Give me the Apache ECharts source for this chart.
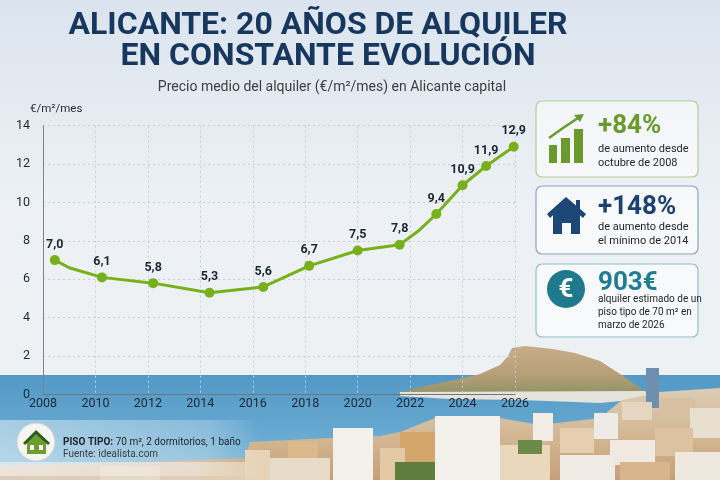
<!DOCTYPE html>
<html>
<head>
<meta charset="utf-8">
<script src="https://cdn.jsdelivr.net/npm/echarts@6/dist/echarts.min.js"></script>
<style>
html,body{margin:0;padding:0;background:#e8edf2;}
#c{width:720px;height:480px;}
</style>
</head>
<body>
<div id="c"></div>
<script>
// ---- data ----
const years  = [2008.45, 2009.0, 2010.25, 2012.2, 2014.35, 2016.4, 2018.15, 2020.0, 2021.6, 2022.3, 2023.0, 2024.0, 2024.9, 2025.95];
const prices = [7.0, 6.6, 6.1, 5.8, 5.3, 5.6, 6.7, 7.5, 7.8, 8.5, 9.4, 10.9, 11.9, 12.9];
const labelled = [true, false, true, true, true, true, true, true, true, false, true, true, true, true];
const xTicks = {min: 2008, max: 2026, interval: 2};
const yTicks = {min: 0, max: 14, interval: 2};
const titleLines = ['ALICANTE: 20 AÑOS DE ALQUILER', 'EN CONSTANTE EVOLUCIÓN'];
const subtitle = 'Precio medio del alquiler (€/m²/mes) en Alicante capital';
const yUnit = '€/m²/mes';
const kpiValues = ['+84%', '+148%', '903€'];
const kpiTexts = [
  ['de aumento desde', 'octubre de 2008'],
  ['de aumento desde', 'el mínimo de 2014'],
  ['alquiler estimado de un', 'piso tipo de 70 m² en', 'marzo de 2026']
];
const footLine1 = '{b|PISO TIPO:} 70 m², 2 dormitorios, 1 baño';
const footLine2 = 'Fuente: idealista.com';

const GREEN = '#78b01c';
const F = 'Roboto, "Noto Sans", sans-serif';

function vgrad(stops){return new echarts.graphic.LinearGradient(0,0,0,1,stops.map(c=>({offset:c[0],color:c[1]})));}
function box(x,y,w,h,c){return {type:'rect', z:-96, shape:{x:x,y:y,width:w,height:h}, style:{fill:c}};}

const bg = [
  {type:'rect', z:-100, shape:{x:0,y:0,width:720,height:376}, style:{fill:vgrad([[0,'#dbe4ee'],[0.55,'#edf1f5'],[1,'#eef1f3']])}},
  {type:'rect', z:-99, shape:{x:0,y:375,width:720,height:105}, style:{fill:vgrad([[0,'#5399c6'],[0.5,'#64a7d0'],[1,'#86bdd8']])}},
  {type:'polygon', z:-98, shape:{points:[[398,393],[420,387],[450,381],[480,374],[500,365],[508,356],[512,348],[525,346],[553,349],[575,353],[600,361],[620,374],[643,390],[648,394],[398,395]]}, style:{fill:vgrad([[0,'#c8ae88'],[0.6,'#b59f78'],[1,'#8f9165']])}},
  {type:'polygon', z:-97, shape:{points:[[400,392],[645,391],[652,398],[600,403],[520,400],[450,399],[400,396]]}, style:{fill:'#e6e3dc'}},
  {type:'polygon', z:-97, shape:{points:[[0,466],[150,462],[245,458],[250,442],[330,438],[380,436],[400,432],[435,418],[500,418],[540,425],[600,418],[622,400],[660,392],[720,388],[720,480],[0,480]]}, style:{fill:vgrad([[0,'#dccdb5'],[0.5,'#d3b894'],[1,'#c69f7a']])}},
  box(0,462,250,18,'rgba(240,240,238,0.55)'),
  box(646,368,13,40,'#6f8fae'),
  box(622,402,30,18,'#e4d6c2'),
  box(660,398,35,20,'#d8c0a2'),
  box(690,408,30,30,'#e9dfd0'),
  box(435,416,65,64,'#f3f1ec'),
  box(400,432,35,35,'#d5a66c'),
  box(380,448,25,32,'#e3c9a5'),
  box(533,413,20,28,'#f1ede6'),
  box(594,413,24,26,'#eeeae5'),
  box(560,428,34,25,'#e6cfae'),
  box(610,440,45,25,'#efe9e1'),
  box(655,428,38,28,'#dcc2a0'),
  box(500,445,50,35,'#ead8bd'),
  box(560,455,55,25,'#f0ebe4'),
  box(620,462,50,18,'#d9b58e'),
  box(675,452,45,28,'#efe8de'),
  box(395,462,40,18,'#5f7d3e'),
  box(518,440,24,14,'#6b8a48'),
  box(333,428,40,52,'#f3f1ec'),
  box(288,441,30,22,'#dcb88d'),
  box(270,458,60,22,'#e8dcc8'),
  box(245,450,25,30,'#e6d3b8'),
  box(200,462,45,18,'#e0cdb2'),
  box(100,466,60,14,'#e5d9c6'),
  {type:'rect', z:-95, shape:{x:0,y:420,width:260,height:56}, style:{fill:new echarts.graphic.LinearGradient(0,0,1,0,[{offset:0,color:'rgba(255,255,255,0.45)'},{offset:0.8,color:'rgba(255,255,255,0.25)'},{offset:1,color:'rgba(255,255,255,0)'}])}}
];

function txt(x,y,text,font,fill,align){
  return {type:'text', z:20, style:{x:x,y:y,text:text,font:font,fill:fill,textAlign:align||'left',textVerticalAlign:'middle'}};
}

const fg = [
  txt(318,26,titleLines[0],'bold 32px '+F,'#17375e','center'),
  txt(328,57,titleLines[1],'bold 32px '+F,'#17375e','center'),
  txt(332,87,subtitle,'14px '+F,'#3b3f45','center'),
  {type:'rect', z:10, shape:{x:536,y:101,width:162,height:76,r:6}, style:{fill:'rgba(255,255,255,0.55)',stroke:'#b8cc8e',lineWidth:1.2}},
  {type:'rect', z:10, shape:{x:536,y:186,width:162,height:68,r:6}, style:{fill:'rgba(255,255,255,0.55)',stroke:'#8ea2bd',lineWidth:1.2}},
  {type:'rect', z:10, shape:{x:536,y:264,width:162,height:73,r:6}, style:{fill:'rgba(255,255,255,0.55)',stroke:'#8fbfcd',lineWidth:1.2}},
  {type:'rect', z:15, shape:{x:549,y:145,width:8,height:18}, style:{fill:'#6a9a2b'}},
  {type:'rect', z:15, shape:{x:561,y:138,width:9,height:25}, style:{fill:'#6a9a2b'}},
  {type:'rect', z:15, shape:{x:574,y:129,width:9,height:34}, style:{fill:'#6a9a2b'}},
  {type:'polyline', z:15, shape:{points:[[549,138],[563,128],[578,118]]}, style:{stroke:'#6a9a2b',lineWidth:2.5,fill:null}},
  {type:'polygon', z:15, shape:{points:[[584,114],[574,115],[580,122]]}, style:{fill:'#6a9a2b'}},
  {type:'polygon', z:15, shape:{points:[[547,214],[566,197],[586,214],[583,218],[566,203],[550,218]]}, style:{fill:'#1d4776'}},
  {type:'polygon', z:15, shape:{points:[[553,212],[566,201],[580,212],[580,234],[571,234],[571,223],[562,223],[562,234],[553,234]]}, style:{fill:'#1d4776'}},
  {type:'rect', z:15, shape:{x:576,y:200,width:4,height:9}, style:{fill:'#1d4776'}},
  {type:'circle', z:15, shape:{cx:566,cy:289,r:19}, style:{fill:'#1f7a8d'}},
  txt(566,290,'€','bold 26px '+F,'#ffffff','center'),
  txt(598,126,kpiValues[0],'bold 26px '+F,'#6a9a2b'),
  txt(598,207,kpiValues[1],'bold 26px '+F,'#1b4273'),
  txt(598,283,kpiValues[2],'bold 26px '+F,'#1f7d92'),
  txt(598,149,kpiTexts[0][0],'11px '+F,'#23272c'),
  txt(598,163,kpiTexts[0][1],'11px '+F,'#23272c'),
  txt(598,227,kpiTexts[1][0],'11px '+F,'#23272c'),
  txt(598,241,kpiTexts[1][1],'11px '+F,'#23272c'),
  txt(598,299,kpiTexts[2][0],'10px '+F,'#23272c'),
  txt(598,312,kpiTexts[2][1],'10px '+F,'#23272c'),
  txt(598,325,kpiTexts[2][2],'10px '+F,'#23272c'),
  {type:'circle', z:15, shape:{cx:36,cy:442,r:19}, style:{fill:'#f5f5f2',stroke:'#cfd2d4',lineWidth:1}},
  {type:'polygon', z:16, shape:{points:[[27,441],[36,433],[46,441],[46,454],[27,454]]}, style:{fill:'#6b9e2c'}},
  {type:'polygon', z:17, shape:{points:[[23,443],[36,430],[50,443],[48,445],[36,434],[25,445]]}, style:{fill:'#2e5a1e'}},
  {type:'rect', z:17, shape:{x:30,y:445,width:4,height:5}, style:{fill:'#ffffff'}},
  {type:'rect', z:17, shape:{x:39,y:445,width:4,height:5}, style:{fill:'#ffffff'}},
  {type:'text', z:20, style:{x:63,y:442,text:footLine1,font:'10px '+F,fill:'#23272c',textVerticalAlign:'middle',rich:{b:{fontWeight:'bold',fontSize:10,fontFamily:'Roboto'}}}},
  txt(63,454,footLine2,'10px '+F,'#3a3f45')
];

const chart = echarts.init(document.getElementById('c'), null, {renderer:'canvas'});
chart.setOption({
  animation:false,
  backgroundColor:'transparent',
  textStyle:{fontFamily:F},
  grid:{left:43,right:205,top:125.7,bottom:85.5,containLabel:false},
  xAxis:{type:'value',min:xTicks.min,max:xTicks.max,interval:xTicks.interval,
    axisLine:{show:true,lineStyle:{color:'#6f767e',width:1}},
    axisTick:{show:false},
    splitLine:{show:true,lineStyle:{color:'#c9ced4',type:[2,3]}},
    axisLabel:{formatter:v=>String(v),color:'#1e2630',fontSize:12.5,margin:3}},
  yAxis:{type:'value',min:yTicks.min,max:yTicks.max,interval:yTicks.interval,
    name:yUnit,nameLocation:'end',nameGap:11,
    nameTextStyle:{color:'#2a2f35',fontSize:11.5,align:'left',padding:[0,0,0,-13]},
    axisLine:{show:true,lineStyle:{color:'#7d838a',width:1}},
    axisTick:{show:false},
    splitLine:{show:true,lineStyle:{color:'#c9ced4',type:[2,3]}},
    axisLabel:{color:'#1e2630',fontSize:12.5,margin:13}},
  graphic:{elements:bg.concat(fg)},
  series:[{
    type:'line',
    data:years.map((y,i)=>({value:[y,prices[i]],symbol:labelled[i]?'circle':'none',label:{show:labelled[i]}})),
    symbolSize:10,
    showAllSymbol:true,
    lineStyle:{color:GREEN,width:3},
    itemStyle:{color:GREEN},
    label:{show:true,position:'top',distance:4,color:'#1c2631',fontSize:12.5,fontWeight:'bold',
      formatter:p=>p.value[1].toFixed(1).replace('.',',')},
    z:5
  }]
});
</script>
</body>
</html>
